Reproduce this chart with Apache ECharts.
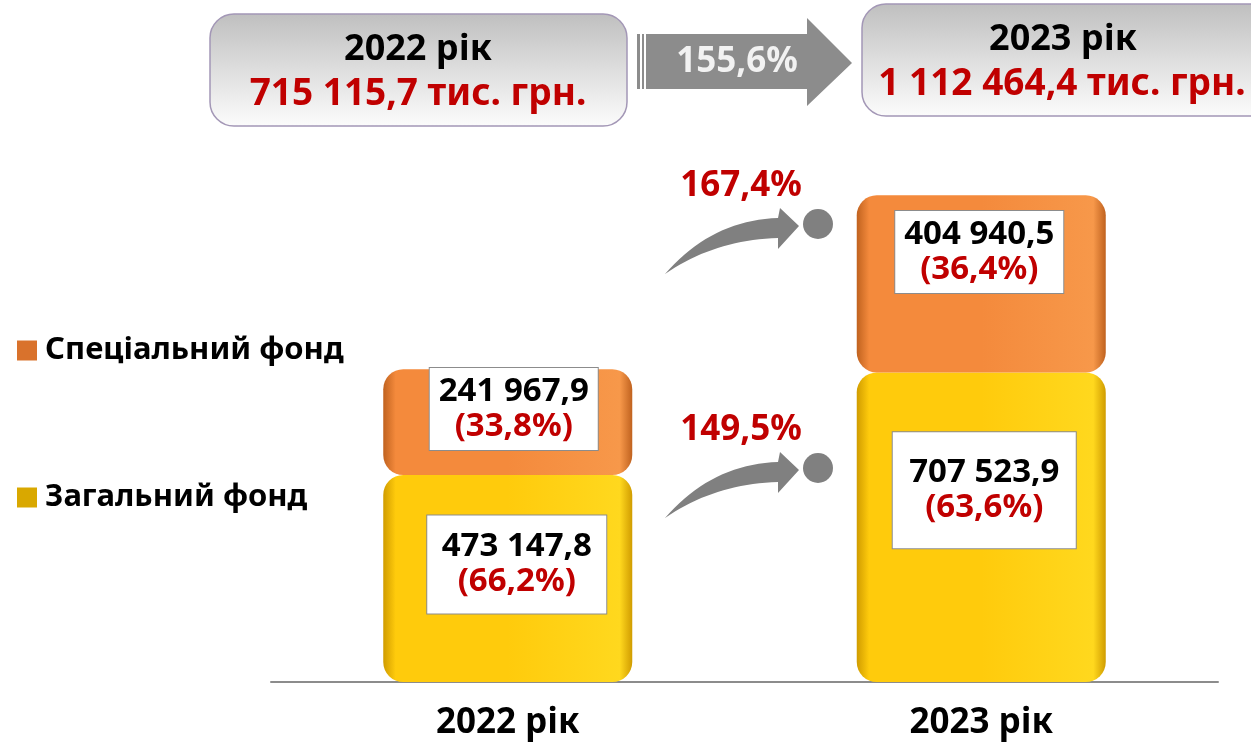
<!DOCTYPE html>
<html>
<head>
<meta charset="utf-8">
<title>Бюджет 2022-2023</title>
<script src="https://cdn.jsdelivr.net/npm/echarts@6/dist/echarts.min.js"></script>
<style>
  html, body { margin: 0; padding: 0; background: #fff; }
  #chart { width: 1251px; height: 748px; }
</style>
</head>
<body>
<div id="chart"></div>
<script>
// дані, тис. грн.
const years = ['2022 рік', '2023 рік']
const generalFund = [473147.8, 707523.9]
const specialFund = [241967.9, 404940.5]
const generalShare = [66.2, 63.6]
const specialShare = [33.8, 36.4]
const totals = [715115.7, 1112464.4]
const totalGrowth = 155.6
const specialGrowth = 167.4
const generalGrowth = 149.5

// розміщення білих підписів у стовпчиках
const generalBox = [{dx: 9, dy: -14, w: 179, pad: 14}, {dx: 3, dy: -37, w: 183, pad: 23}]
const specialBox = [{dx: 6, dy: -13, w: 168, pad: 6}, {dx: -2, dy: -32, w: 168, pad: 6}]

const FONT = '"Noto Sans", sans-serif'
const RED = '#c00000'

function fmt (v, d) {
  let parts = v.toFixed(d).split('.')
  let int = parts[0].replace(/\B(?=(\d{3})+(?!\d))/g, ' ')
  return parts.length > 1 ? int + ',' + parts[1] : int
}

function barGradient (dark, main, light) {
  return {
    type: 'linear', x: 0, y: 0, x2: 1, y2: 0,
    colorStops: [
      {offset: 0, color: dark},
      {offset: 0.05, color: main},
      {offset: 0.5, color: main},
      {offset: 0.95, color: light},
      {offset: 1, color: dark}
    ]
  }
}

function makeData (values, shares, boxes) {
  return values.map(function (v, i) {
    let b = boxes[i]
    return {
      value: v,
      label: {
        offset: [b.dx, b.dy],
        width: b.w,
        padding: [b.pad, 0, b.pad, 0],
        formatter: '{v|' + fmt(v, 1) + '}\n{p|(' + fmt(shares[i], 1) + '%)}'
      }
    }
  })
}

const boxLabel = {
  show: true,
  position: 'inside',
  backgroundColor: '#ffffff',
  borderColor: '#8c8c8c',
  borderWidth: 1,
  align: 'center',
  rich: {
    v: {fontFamily: FONT, fontSize: 33, fontWeight: 'bold', color: '#000', lineHeight: 35, align: 'center'},
    p: {fontFamily: FONT, fontSize: 33, fontWeight: 'bold', color: RED, lineHeight: 35, align: 'center'}
  }
}

// вигнута стрілка від хвоста (x0, y0)
function curvedArrow (x0, y0) {
  function q (p0, c, p2, t) {
    let a = (1 - t) * (1 - t), b = 2 * (1 - t) * t, d = t * t
    return [a * p0[0] + b * c[0] + d * p2[0], a * p0[1] + b * c[1] + d * p2[1]]
  }
  let tail = [x0, y0]
  let up = [x0 + 113, y0 - 56]
  let low = [x0 + 113, y0 - 36]
  let pts = []
  for (let i = 0; i <= 20; i++) pts.push(q(tail, [x0 + 47, y0 - 54], up, i / 20))
  pts.push([x0 + 115, y0 - 66])
  pts.push([x0 + 134, y0 - 48])
  pts.push([x0 + 113, y0 - 25])
  for (let i = 0; i <= 20; i++) pts.push(q(low, [x0 + 49, y0 - 34], tail, i / 20))
  return pts
}

const boxFill = {
  type: 'linear', x: 0, y: 0, x2: 0, y2: 1,
  colorStops: [{offset: 0, color: '#bfbfbf'}, {offset: 0.5, color: '#dedede'}, {offset: 1, color: '#fcfcfc'}]
}

function txt (s, x, y, size, color) {
  return {
    type: 'text',
    style: {text: s, x: x, y: y, textAlign: 'center', textVerticalAlign: 'middle',
      font: 'bold ' + size + 'px ' + FONT, fill: color}
  }
}

const legendText = {fontFamily: FONT, fontSize: 31, fontWeight: 'bold', color: '#000', padding: [0, 0, 0, 3]}

let chart = echarts.init(document.getElementById('chart'))

let option = {
  animation: false,
  backgroundColor: '#ffffff',
  grid: {left: 271, right: 33, top: 157, bottom: 66},
  legend: [
    {
      left: 12, top: 330, itemWidth: 20, itemHeight: 20, icon: 'rect',
      data: [{name: 'Спеціальний фонд', itemStyle: {color: '#d9722c'}}],
      textStyle: legendText
    },
    {
      left: 12, top: 477, itemWidth: 20, itemHeight: 20, icon: 'rect',
      data: [{name: 'Загальний фонд', itemStyle: {color: '#d9a800'}}],
      textStyle: legendText
    }
  ],
  xAxis: {
    type: 'category',
    data: years,
    axisLine: {lineStyle: {color: '#8c8c8c', width: 2}},
    axisTick: {show: false},
    axisLabel: {fontFamily: FONT, fontSize: 35, fontWeight: 'bold', color: '#000', margin: 24}
  },
  yAxis: {type: 'value', min: 0, max: 1200000, show: false},
  series: [
    {
      name: 'Загальний фонд',
      type: 'bar',
      stack: 'fund',
      barWidth: 249,
      itemStyle: {color: barGradient('#d09c00', '#ffcb0c', '#ffd81e'), borderRadius: 20},
      label: boxLabel,
      data: makeData(generalFund, generalShare, generalBox)
    },
    {
      name: 'Спеціальний фонд',
      type: 'bar',
      stack: 'fund',
      barWidth: 249,
      itemStyle: {color: barGradient('#c0621f', '#f48a3c', '#f7984a'), borderRadius: 20},
      label: boxLabel,
      data: makeData(specialFund, specialShare, specialBox)
    }
  ],
  graphic: [
    {type: 'rect', shape: {x: 210, y: 14, width: 417, height: 112, r: 24},
      style: {fill: boxFill, stroke: '#a397b6', lineWidth: 1.5}},
    txt(years[0], 418, 50, 36, '#000'),
    txt(fmt(totals[0], 1) + ' тис. грн.', 418, 94, 37, RED),
    {type: 'rect', shape: {x: 862, y: 4, width: 420, height: 112, r: 24},
      style: {fill: boxFill, stroke: '#a397b6', lineWidth: 1.5}},
    txt(years[1], 1063, 40, 36, '#000'),
    txt(fmt(totals[1], 1) + ' тис. грн.', 1062, 84, 37, RED),
    {type: 'rect', shape: {x: 637, y: 34, width: 3, height: 55}, style: {fill: '#8c8c8c'}},
    {type: 'rect', shape: {x: 642, y: 34, width: 2, height: 55}, style: {fill: '#8c8c8c'}},
    {type: 'polygon',
      shape: {points: [[646, 34], [807, 34], [807, 18], [852, 63], [807, 106], [807, 89], [646, 89]]},
      style: {fill: '#8c8c8c'}},
    txt(fmt(totalGrowth, 1) + '%', 737, 62, 35, '#f2f2f2'),
    {type: 'polygon', shape: {points: curvedArrow(665, 274)}, style: {fill: '#808080'}},
    {type: 'circle', shape: {cx: 818, cy: 224, r: 15}, style: {fill: '#808080'}},
    txt(fmt(specialGrowth, 1) + '%', 741, 186, 35, RED),
    {type: 'polygon', shape: {points: curvedArrow(665, 518)}, style: {fill: '#808080'}},
    {type: 'circle', shape: {cx: 818, cy: 468, r: 15}, style: {fill: '#808080'}},
    txt(fmt(generalGrowth, 1) + '%', 741, 430, 35, RED)
  ]
}

chart.setOption(option)
</script>
</body>
</html>
